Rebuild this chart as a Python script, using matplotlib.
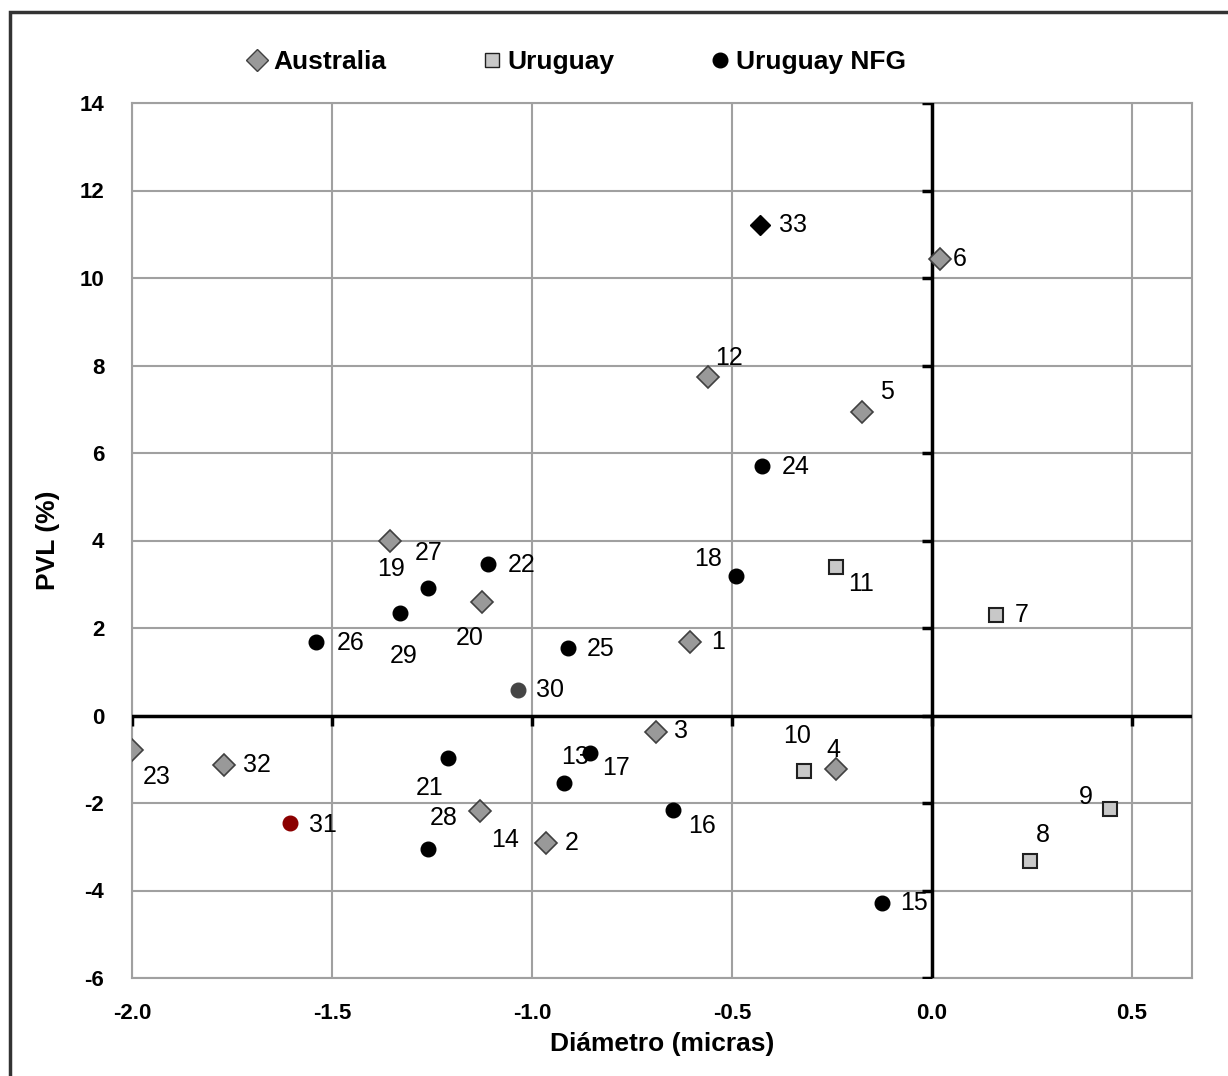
import matplotlib.pyplot as plt
from matplotlib.patches import Rectangle
from matplotlib.lines import Line2D
import numpy as np

plt.rcParams['font.family'] = ['Liberation Sans', 'DejaVu Sans']
plt.rcParams['axes.unicode_minus'] = False

# Australia (gray diamonds)
aus_id = ['23', '32', '19', '20', '14', '2', '3', '1', '12', '5', '4', '6']
aus_x = [-2.00, -1.77, -1.355, -1.125, -1.13, -0.965, -0.69, -0.605, -0.56, -0.175, -0.24, 0.02]
aus_y = [-0.79, -1.13, 3.99, 2.59, -2.18, -2.91, -0.38, 1.68, 7.74, 6.94, -1.22, 10.43]

# Uruguay (light squares)
uru_id = ['10', '11', '7', '9', '8']
uru_x = [-0.32, -0.24, 0.16, 0.445, 0.245]
uru_y = [-1.27, 3.39, 2.30, -2.13, -3.32]

# Uruguay NFG (black circles)
nfg_id = ['24', '18', '22', '27', '29', '26', '25', '21', '17', '13', '16', '28', '15']
nfg_x = [-0.425, -0.49, -1.11, -1.26, -1.33, -1.54, -0.91, -1.21, -0.855, -0.92, -0.6475, -1.26, -0.125]
nfg_y = [5.70, 3.19, 3.46, 2.91, 2.34, 1.68, 1.54, -0.97, -0.86, -1.54, -2.16, -3.05, -4.29]

# highlighted single points
special_id = ['33', '30', '31']
special_x = [-0.43, -1.035, -1.605]
special_y = [11.21, 0.58, -2.46]
special_mk = ['D', 'o', 'o']
special_col = ['black', '#454545', '#8b0000']

xticks = [-2.0, -1.5, -1.0, -0.5, 0.0, 0.5]
yticks = [-6, -4, -2, 0, 2, 4, 6, 8, 10, 12, 14]

# label offsets in pixels (dx, dy)
offs = {'23': (25, -27), '32': (33, 0), '19': (1, -28), '20': (-12, -36), '14': (25, -29),
        '2': (26, 0), '3': (25, 1), '1': (28, 0), '12': (21, 19), '5': (25, 20),
        '4': (-3, 19), '6': (20, 0), '10': (-7, 35), '11': (25, -17), '7': (26, 0),
        '9': (-24, 12), '8': (13, 26), '24': (34, -1), '18': (-28, 17), '22': (34, -1),
        '27': (1, 35), '29': (4, -43), '26': (35, -1), '25': (33, -1), '21': (-18, -30),
        '17': (26, -15), '13': (11, 26), '16': (29, -16), '28': (16, 31), '15': (32, 0),
        '33': (33, 0), '30': (32, 0), '31': (33, -2)}

fig = plt.figure(figsize=(12.28, 10.76), dpi=100)
ax = fig.add_axes([132/1228, 1-978/1076, (1192-132)/1228, (978-103)/1076])
fig.patches.append(Rectangle((10/1228, -0.05), 1.1, 1-12/1076+0.05, transform=fig.transFigure,
                             fill=False, edgecolor='#333333', lw=2.5))

ax.set_xlim(-2.0, 0.65)
ax.set_ylim(-6, 14)
ax.set_xticks(xticks)
ax.set_xticklabels(['%.1f' % v for v in xticks])
ax.set_yticks(yticks)
ax.tick_params(length=0, labelsize=16)
ax.tick_params(axis='y', pad=20)
ax.tick_params(axis='x', pad=18)
for lb in ax.get_xticklabels() + ax.get_yticklabels():
    lb.set_fontweight('bold')
ax.grid(True, color='#a0a0a0', lw=1.5)
for s in ax.spines.values():
    s.set_color('#a0a0a0')
    s.set_linewidth(1.5)

ax.axhline(0, color='black', lw=2.5, zorder=3)
ax.axvline(0, color='black', lw=2.5, zorder=3)
ax.plot(np.zeros(len(yticks)), yticks, ls='none', marker=0, ms=7, mew=2.5, color='black', zorder=3)
ax.plot(xticks, np.zeros(len(xticks)), ls='none', marker=3, ms=7, mew=2.5, color='black', zorder=3)

ax.plot(aus_x, aus_y, ls='none', marker='D', ms=11, mfc='#999999', mec='#404040', mew=1.2, zorder=4)
ax.plot(uru_x, uru_y, ls='none', marker='s', ms=10, mfc='#c8c8c8', mec='#202020', mew=1.5, zorder=4)
ax.plot(nfg_x, nfg_y, ls='none', marker='o', ms=10.5, color='black', zorder=4)
for x, y, m, c in zip(special_x, special_y, special_mk, special_col):
    ax.plot(x, y, ls='none', marker=m, ms=10.5, color=c, zorder=4)

for ids, xs, ys in [(aus_id, aus_x, aus_y), (uru_id, uru_x, uru_y),
                    (nfg_id, nfg_x, nfg_y), (special_id, special_x, special_y)]:
    for i, x, y in zip(ids, xs, ys):
        ax.annotate(i, (x, y), xytext=offs[i], textcoords='offset pixels',
                    ha='center', va='center', fontsize=18, zorder=5)

ax.set_xlabel('Diámetro (micras)', fontsize=19, fontweight='bold', labelpad=6)
ax.set_ylabel('PVL (%)', fontsize=19, fontweight='bold', labelpad=14)

handles = [Line2D([], [], ls='none', marker='D', ms=11, mfc='#999999', mec='#404040'),
           Line2D([], [], ls='none', marker='s', ms=10, mfc='#c8c8c8', mec='#202020'),
           Line2D([], [], ls='none', marker='o', ms=10.5, color='black')]
fig.legend(handles, ['Australia', 'Uruguay', 'Uruguay NFG'], loc='center', ncol=3,
           bbox_to_anchor=(575/1228, 1-62/1076), frameon=False, handletextpad=0.1,
           columnspacing=3.5, handlelength=1,
           prop={'weight': 'bold', 'size': 19})

fig.savefig('out.png', dpi=100)
